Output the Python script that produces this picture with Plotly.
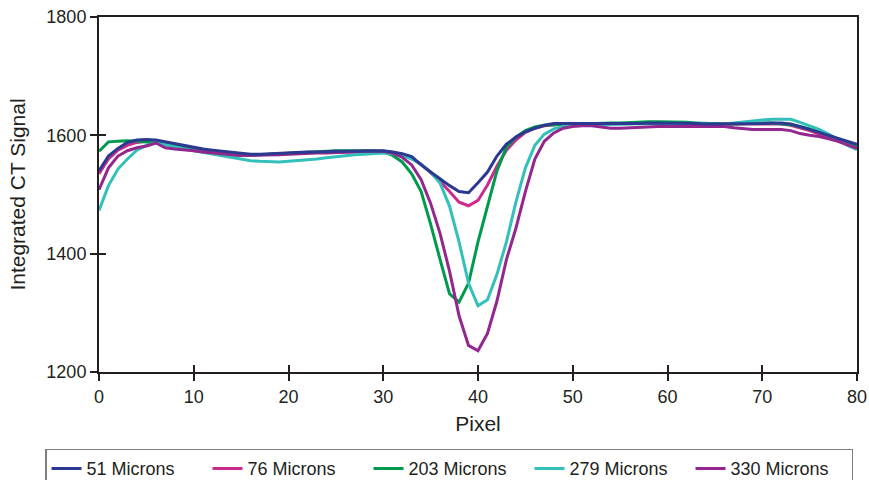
import plotly.graph_objects as go

pixels = list(range(0, 81))

microns_51 = [1540, 1565, 1578, 1588, 1592, 1593, 1592, 1589, 1585, 1582,
              1579, 1577, 1575, 1573, 1571, 1570, 1568, 1568, 1569, 1570,
              1570, 1571, 1572, 1572, 1573, 1573, 1573, 1573, 1573, 1574,
              1574, 1572, 1569, 1564, 1550, 1538, 1526, 1515, 1505, 1503,
              1520, 1538, 1565, 1585, 1597, 1606, 1612, 1617, 1620, 1620,
              1619, 1619, 1619, 1619, 1619, 1620, 1620, 1620, 1621, 1621,
              1621, 1621, 1620, 1620, 1619, 1619, 1619, 1619, 1619, 1620,
              1620, 1621, 1621, 1619, 1615, 1610, 1605, 1600, 1596, 1590,
              1585]

microns_76 = [1535, 1560, 1575, 1583, 1588, 1590, 1590, 1587, 1583, 1580,
              1577, 1575, 1573, 1571, 1569, 1568, 1567, 1567, 1568, 1569,
              1569, 1570, 1571, 1571, 1572, 1572, 1572, 1572, 1573, 1573,
              1573, 1571, 1567, 1561, 1551, 1537, 1522, 1505, 1487, 1481,
              1490, 1516, 1548, 1575, 1592, 1605, 1612, 1616, 1618, 1619,
              1619, 1619, 1619, 1619, 1620, 1620, 1620, 1620, 1621, 1621,
              1621, 1621, 1620, 1620, 1619, 1619, 1619, 1619, 1619, 1620,
              1620, 1620, 1619, 1617, 1613, 1608, 1602, 1597, 1592, 1586,
              1580]

microns_203 = [1573, 1589, 1590, 1591, 1590, 1589, 1588, 1586, 1582, 1578,
               1575, 1572, 1570, 1568, 1567, 1566, 1566, 1567, 1568, 1569,
               1570, 1571, 1572, 1573, 1574, 1574, 1574, 1574, 1574, 1574,
               1572, 1566, 1555, 1535, 1505, 1450, 1390, 1332, 1318, 1350,
               1420, 1480, 1540, 1580, 1597, 1608, 1614, 1617, 1618, 1618,
               1619, 1619, 1620, 1620, 1621, 1621, 1622, 1623, 1623, 1623,
               1623, 1623, 1622, 1621, 1620, 1620, 1619, 1619, 1620, 1621,
               1621, 1621, 1620, 1618, 1615, 1611, 1606, 1600, 1593, 1587,
               1580]

microns_279 = [1473, 1515, 1543, 1560, 1575, 1583, 1588, 1584, 1580, 1577,
               1574, 1571, 1568, 1565, 1562, 1559, 1557, 1556, 1555, 1555,
               1556, 1557, 1558, 1560, 1562, 1564, 1566, 1567, 1568, 1569,
               1570, 1569, 1566, 1560, 1551, 1538, 1519, 1480, 1420, 1350,
               1312, 1322, 1365, 1420, 1487, 1545, 1583, 1602, 1611, 1615,
               1617, 1618, 1618, 1618, 1618, 1618, 1619, 1620, 1620, 1620,
               1620, 1620, 1620, 1620, 1619, 1619, 1619, 1621, 1623, 1625,
               1626, 1627, 1627, 1627, 1622, 1616, 1610, 1602, 1593, 1583,
               1576]

microns_330 = [1508, 1545, 1565, 1574, 1579, 1582, 1587, 1579, 1577, 1576,
               1574, 1572, 1570, 1568, 1567, 1566, 1566, 1566, 1566, 1567,
               1568, 1569, 1570, 1570, 1570, 1571, 1572, 1573, 1573, 1573,
               1573, 1570, 1563, 1550, 1525, 1485, 1434, 1370, 1295, 1245,
               1236, 1265, 1320, 1390, 1443, 1505, 1560, 1590, 1604, 1612,
               1615, 1616, 1616, 1614, 1612, 1612, 1613, 1614, 1614, 1615,
               1615, 1615, 1615, 1616, 1616, 1615, 1615, 1613, 1611, 1610,
               1610, 1610, 1610, 1608, 1603, 1600, 1598, 1594, 1590, 1584,
               1578]

series_names = ["51 Microns", "76 Microns", "203 Microns", "279 Microns", "330 Microns"]
series_values = [microns_51, microns_76, microns_203, microns_279, microns_330]
series_colors = ["#2B3990", "#CC2A8E", "#009A4E", "#33BFBA", "#93278F"]

x_ticks = [0, 10, 20, 30, 40, 50, 60, 70, 80]
y_ticks = [1200, 1400, 1600, 1800]

FONT = "Liberation Sans, Arial, Helvetica, sans-serif"
AXIS_COLOR = "#231F20"

fig = go.Figure()
for i, (name, vals, col) in enumerate(zip(series_names, series_values, series_colors)):
    fig.add_trace(go.Scatter(
        x=pixels, y=vals, mode="lines", name=name,
        line=dict(color=col, width=3),
        xaxis="x2" if i == 0 else "x",
        yaxis="y2" if i == 0 else "y",
    ))

common_x = dict(range=[0, 80], tickvals=x_ticks, showgrid=False, zeroline=False)
common_y = dict(range=[1200, 1800], tickvals=y_ticks, showgrid=False, zeroline=False)

fig.update_layout(
    width=869, height=480,
    margin=dict(l=99, r=12, t=17, b=108, autoexpand=False),
    paper_bgcolor="white", plot_bgcolor="white",
    font=dict(family=FONT, size=18, color="#231F20"),
    xaxis=dict(**common_x, showline=True, linecolor=AXIS_COLOR, linewidth=2,
               mirror=True, ticks="outside", ticklen=7, tickwidth=1.5,
               tickcolor=AXIS_COLOR, tickfont=dict(size=18),
               title=dict(text="Pixel", font=dict(size=21), standoff=11)),
    yaxis=dict(**common_y, showline=True, linecolor=AXIS_COLOR, linewidth=2,
               mirror=True, ticks="outside", ticklen=7, tickwidth=1.5,
               tickcolor=AXIS_COLOR, tickfont=dict(size=18),
               title=dict(text="Integrated CT Signal", font=dict(size=21), standoff=15)),
    xaxis2=dict(**common_x, overlaying="x", anchor="y", side="bottom",
                showline=False, ticks="inside", ticklen=7, tickwidth=1.5,
                tickcolor=AXIS_COLOR, showticklabels=False),
    yaxis2=dict(**common_y, overlaying="y", anchor="x", side="left",
                showline=False, ticks="inside", ticklen=7, tickwidth=1.5,
                tickcolor=AXIS_COLOR, showticklabels=False),
    legend=dict(orientation="h", x=-0.0712, xanchor="left", y=-0.216, yanchor="top",
                bordercolor="#808080", borderwidth=1.5, bgcolor="white",
                font=dict(size=18), traceorder="normal", entrywidth=116),
    showlegend=True,
)

fig.write_html("out.html")
